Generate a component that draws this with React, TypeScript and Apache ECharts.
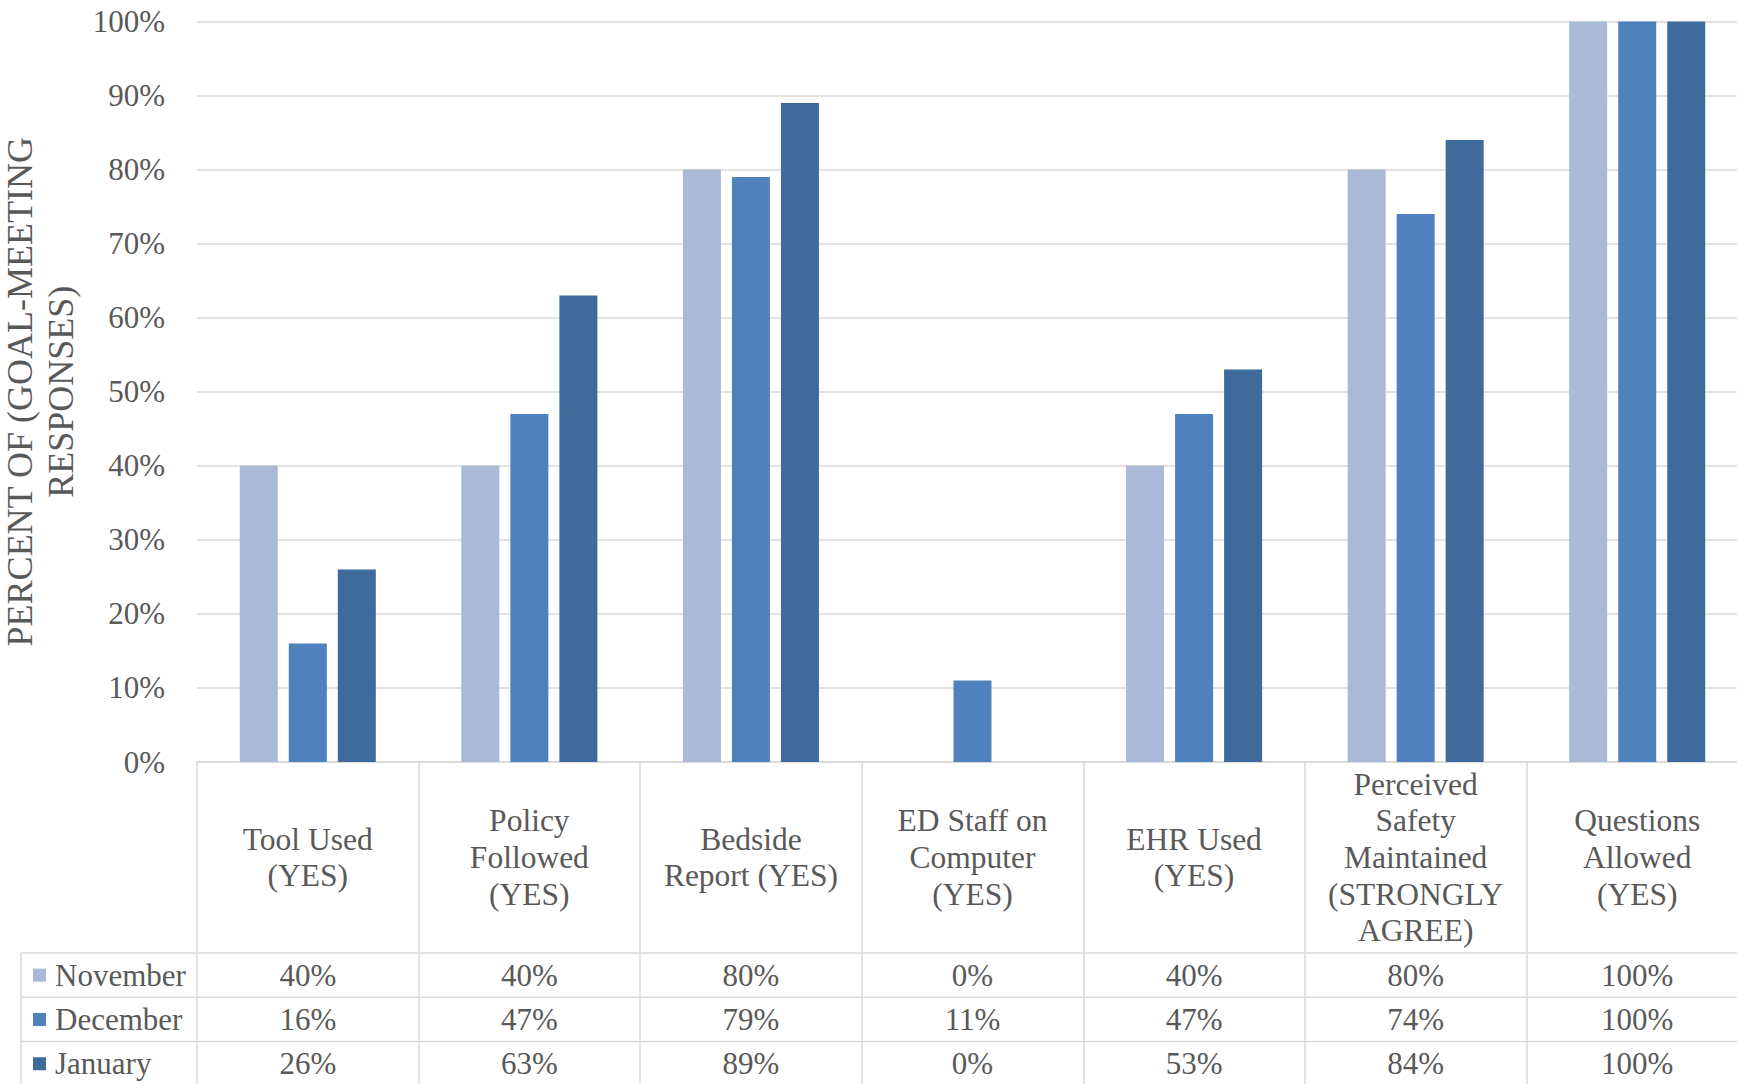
import React, { useEffect, useRef } from "react";
import * as echarts from "echarts";

// Survey categories (wrapped as shown in the table header cells)
const categoryLabels = [
  "Tool Used\n(YES)",
  "Policy\nFollowed\n(YES)",
  "Bedside\nReport (YES)",
  "ED Staff on\nComputer\n(YES)",
  "EHR Used\n(YES)",
  "Perceived\nSafety\nMaintained\n(STRONGLY\nAGREE)",
  "Questions\nAllowed\n(YES)",
];

const monthNames = ["November", "December", "January"];
const monthColors = ["#AAB9D7", "#4F81BD", "#3F6A9C"];

// Percent of goal-meeting responses per month
const november = [40, 40, 80, 0, 40, 80, 100];
const december = [16, 47, 79, 11, 47, 74, 100];
const january = [26, 63, 89, 0, 53, 84, 100];
const monthValues = [november, december, january];

const yTicks = { min: 0, max: 100, interval: 10 };

const FONT = "'Liberation Serif', 'Times New Roman', serif";
const TEXT = "#595959";
const RULE = "#D9D9D9";

export default function App() {
  const ref = useRef<HTMLDivElement>(null);

  useEffect(() => {
    document.body.style.margin = "0";
    const chart = echarts.init(ref.current!, null, { renderer: "svg" });

    const gridTop = 21.5;
    const gridHeight = 740.5;
    const axisY = gridTop + gridHeight;
    const rowH = 44.3;
    const headerBottom = 953;
    const rowCenters = [0, 1, 2].map((r) => headerBottom + rowH * r + rowH / 2);
    const legendLine = 36;

    const valueRowAxes = monthValues.map((vals, r) => ({
      type: "category",
      data: categoryLabels,
      gridIndex: 0,
      position: "bottom",
      boundaryGap: true,
      axisLine: { show: false },
      axisTick: { show: false },
      splitLine: { show: false },
      axisLabel: {
        interval: 0,
        margin: rowCenters[r] - axisY,
        verticalAlign: "middle",
        fontFamily: FONT,
        fontSize: 31,
        color: TEXT,
        formatter: (_v: string, i: number) => `${vals[i]}%`,
      },
    }));

    const rowLines = [0, 1, 2].map((r) => ({
      type: "line",
      silent: true,
      shape: { x1: 21, y1: headerBottom + rowH * r, x2: 1737, y2: headerBottom + rowH * r },
      style: { stroke: RULE, lineWidth: 1.5 },
    }));

    chart.setOption({
      animation: false,
      backgroundColor: "#ffffff",
      color: monthColors,
      grid: {
        left: 197,
        top: gridTop,
        width: 1551,
        height: gridHeight,
        containLabel: false,
        outerBoundsMode: "none",
      },
      legend: {
        orient: "vertical",
        left: 33,
        top: rowCenters[0] - legendLine / 2,
        padding: 0,
        itemGap: rowH - legendLine,
        itemWidth: 13,
        itemHeight: 13,
        icon: "rect",
        selectedMode: false,
        data: monthNames,
        textStyle: {
          fontFamily: FONT,
          fontSize: 31,
          color: TEXT,
          lineHeight: legendLine,
          padding: [0, 0, 0, 4],
        },
      },
      xAxis: [
        {
          type: "category",
          data: categoryLabels,
          boundaryGap: true,
          axisLine: { show: true, lineStyle: { color: RULE, width: 1.5 } },
          axisTick: {
            show: true,
            interval: 0,
            length: 340,
            lineStyle: { color: RULE, width: 1.5 },
          },
          axisLabel: {
            interval: 0,
            margin: 95.5,
            verticalAlign: "middle",
            fontFamily: FONT,
            fontSize: 31.5,
            lineHeight: 36.6,
            color: TEXT,
            align: "center",
          },
        },
        ...valueRowAxes,
      ],
      yAxis: {
        type: "value",
        min: yTicks.min,
        max: yTicks.max,
        interval: yTicks.interval,
        name: "PERCENT OF (GOAL-MEETING\nRESPONSES)",
        nameLocation: "middle",
        nameGap: 142,
        nameRotate: 90,
        nameTextStyle: {
          fontFamily: FONT,
          fontSize: 36,
          lineHeight: 41,
          color: TEXT,
          align: "center",
          verticalAlign: "middle",
        },
        axisLine: { show: false },
        axisTick: { show: false },
        axisLabel: {
          margin: 32,
          fontFamily: FONT,
          fontSize: 31,
          color: TEXT,
          formatter: "{value}%",
        },
        splitLine: { show: true, lineStyle: { color: RULE, width: 1.5 } },
      },
      series: monthNames.map((name, k) => ({
        name,
        type: "bar",
        xAxisIndex: 0,
        data: monthValues[k],
        barWidth: 38,
        barGap: "29%",
        itemStyle: { color: monthColors[k] },
      })),
      graphic: [
        ...rowLines,
        {
          type: "line",
          silent: true,
          shape: { x1: 21, y1: headerBottom, x2: 21, y2: 1084 },
          style: { stroke: RULE, lineWidth: 1.5 },
        },
      ],
    });

    return () => chart.dispose();
  }, []);

  return (
    <div
      ref={ref}
      style={{ position: "fixed", left: 0, top: 0, width: 1737, height: 1084 }}
    />
  );
}
